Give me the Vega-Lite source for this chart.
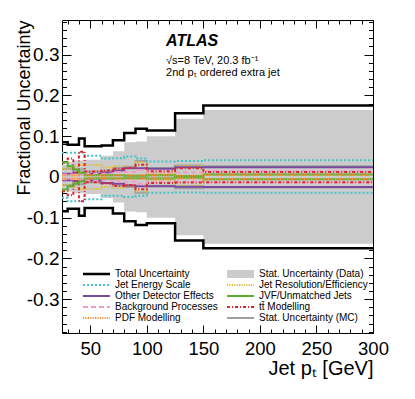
{
"$schema": "https://vega.github.io/schema/vega-lite/v6.json",
"width": 311, "height": 313,
"autosize": {"type": "none"},
"padding": {"left": 62, "top": 20, "right": 42, "bottom": 66},
"background": "white",
"data": {"values": [
{"s":"Stat. Uncertainty (Data)","x":25,"u":0.030,"d":-0.030},{"s":"Stat. Uncertainty (Data)","x":30,"u":0.036,"d":-0.036},{"s":"Stat. Uncertainty (Data)","x":35,"u":0.040,"d":-0.040},{"s":"Stat. Uncertainty (Data)","x":40,"u":0.040,"d":-0.040},{"s":"Stat. Uncertainty (Data)","x":45,"u":0.042,"d":-0.042},{"s":"Stat. Uncertainty (Data)","x":60,"u":0.052,"d":-0.052},{"s":"Stat. Uncertainty (Data)","x":70,"u":0.063,"d":-0.063},{"s":"Stat. Uncertainty (Data)","x":80,"u":0.085,"d":-0.085},{"s":"Stat. Uncertainty (Data)","x":90,"u":0.087,"d":-0.087},{"s":"Stat. Uncertainty (Data)","x":100,"u":0.100,"d":-0.100},{"s":"Stat. Uncertainty (Data)","x":125,"u":0.143,"d":-0.143},{"s":"Stat. Uncertainty (Data)","x":150,"u":0.164,"d":-0.164},{"s":"Stat. Uncertainty (Data)","x":300,"u":0.164,"d":-0.164},
{"s":"Stat. Uncertainty (MC)","x":25,"u":0.020,"d":-0.020},{"s":"Stat. Uncertainty (MC)","x":30,"u":0.020,"d":-0.020},{"s":"Stat. Uncertainty (MC)","x":35,"u":0.018,"d":-0.018},{"s":"Stat. Uncertainty (MC)","x":40,"u":0.018,"d":-0.018},{"s":"Stat. Uncertainty (MC)","x":45,"u":0.013,"d":-0.013},{"s":"Stat. Uncertainty (MC)","x":60,"u":0.015,"d":-0.015},{"s":"Stat. Uncertainty (MC)","x":70,"u":0.022,"d":-0.022},{"s":"Stat. Uncertainty (MC)","x":80,"u":0.025,"d":-0.025},{"s":"Stat. Uncertainty (MC)","x":90,"u":0.039,"d":-0.039},{"s":"Stat. Uncertainty (MC)","x":100,"u":0.022,"d":-0.022},{"s":"Stat. Uncertainty (MC)","x":125,"u":0.028,"d":-0.028},{"s":"Stat. Uncertainty (MC)","x":150,"u":0.026,"d":-0.026},{"s":"Stat. Uncertainty (MC)","x":300,"u":0.026,"d":-0.026},
{"s":"Jet Energy Scale","x":25,"u":0.059,"d":-0.051},{"s":"Jet Energy Scale","x":30,"u":0.059,"d":-0.060},{"s":"Jet Energy Scale","x":35,"u":0.059,"d":-0.060},{"s":"Jet Energy Scale","x":40,"u":0.059,"d":-0.060},{"s":"Jet Energy Scale","x":45,"u":0.052,"d":-0.055},{"s":"Jet Energy Scale","x":60,"u":0.045,"d":-0.046},{"s":"Jet Energy Scale","x":70,"u":0.046,"d":-0.046},{"s":"Jet Energy Scale","x":80,"u":0.050,"d":-0.049},{"s":"Jet Energy Scale","x":90,"u":0.045,"d":-0.046},{"s":"Jet Energy Scale","x":100,"u":0.038,"d":-0.039},{"s":"Jet Energy Scale","x":125,"u":0.039,"d":-0.038},{"s":"Jet Energy Scale","x":150,"u":0.041,"d":-0.039},{"s":"Jet Energy Scale","x":300,"u":0.041,"d":-0.039},
{"s":"Jet Resolution/Efficiency","x":25,"u":0.020,"d":-0.020},{"s":"Jet Resolution/Efficiency","x":30,"u":0.022,"d":-0.022},{"s":"Jet Resolution/Efficiency","x":35,"u":0.025,"d":-0.025},{"s":"Jet Resolution/Efficiency","x":40,"u":0.030,"d":-0.030},{"s":"Jet Resolution/Efficiency","x":45,"u":0.029,"d":-0.029},{"s":"Jet Resolution/Efficiency","x":60,"u":0.023,"d":-0.025},{"s":"Jet Resolution/Efficiency","x":70,"u":0.026,"d":-0.027},{"s":"Jet Resolution/Efficiency","x":80,"u":0.022,"d":-0.022},{"s":"Jet Resolution/Efficiency","x":90,"u":0.036,"d":-0.036},{"s":"Jet Resolution/Efficiency","x":100,"u":0.008,"d":-0.008},{"s":"Jet Resolution/Efficiency","x":125,"u":0.027,"d":-0.022},{"s":"Jet Resolution/Efficiency","x":150,"u":0.005,"d":-0.005},{"s":"Jet Resolution/Efficiency","x":300,"u":0.005,"d":-0.005},
{"s":"Other Detector Effects","x":25,"u":0.008,"d":-0.008},{"s":"Other Detector Effects","x":30,"u":0.008,"d":-0.008},{"s":"Other Detector Effects","x":35,"u":0.010,"d":-0.010},{"s":"Other Detector Effects","x":40,"u":0.010,"d":-0.010},{"s":"Other Detector Effects","x":45,"u":0.008,"d":-0.008},{"s":"Other Detector Effects","x":60,"u":0.011,"d":-0.015},{"s":"Other Detector Effects","x":70,"u":0.016,"d":-0.017},{"s":"Other Detector Effects","x":80,"u":0.021,"d":-0.021},{"s":"Other Detector Effects","x":90,"u":0.021,"d":-0.023},{"s":"Other Detector Effects","x":100,"u":0.020,"d":-0.023},{"s":"Other Detector Effects","x":125,"u":0.024,"d":-0.024},{"s":"Other Detector Effects","x":150,"u":0.024,"d":-0.025},{"s":"Other Detector Effects","x":300,"u":0.024,"d":-0.025},
{"s":"Background Processes","x":25,"u":0.006,"d":-0.006},{"s":"Background Processes","x":30,"u":0.006,"d":-0.006},{"s":"Background Processes","x":35,"u":0.006,"d":-0.006},{"s":"Background Processes","x":40,"u":0.007,"d":-0.007},{"s":"Background Processes","x":45,"u":0.008,"d":-0.008},{"s":"Background Processes","x":60,"u":0.008,"d":-0.008},{"s":"Background Processes","x":70,"u":0.012,"d":-0.012},{"s":"Background Processes","x":80,"u":0.012,"d":-0.012},{"s":"Background Processes","x":90,"u":0.017,"d":-0.017},{"s":"Background Processes","x":100,"u":0.011,"d":-0.011},{"s":"Background Processes","x":125,"u":0.011,"d":-0.011},{"s":"Background Processes","x":150,"u":0.014,"d":-0.014},{"s":"Background Processes","x":300,"u":0.014,"d":-0.014},
{"s":"tt̄ Modelling","x":25,"u":0.035,"d":-0.035},{"s":"tt̄ Modelling","x":30,"u":0.045,"d":-0.045},{"s":"tt̄ Modelling","x":35,"u":0.012,"d":-0.012},{"s":"tt̄ Modelling","x":40,"u":0.062,"d":-0.060},{"s":"tt̄ Modelling","x":45,"u":0.013,"d":-0.013},{"s":"tt̄ Modelling","x":60,"u":0.016,"d":-0.016},{"s":"tt̄ Modelling","x":70,"u":0.020,"d":-0.022},{"s":"tt̄ Modelling","x":80,"u":0.022,"d":-0.020},{"s":"tt̄ Modelling","x":90,"u":0.030,"d":-0.030},{"s":"tt̄ Modelling","x":100,"u":0.014,"d":-0.015},{"s":"tt̄ Modelling","x":125,"u":0.021,"d":-0.014},{"s":"tt̄ Modelling","x":150,"u":0.012,"d":-0.013},{"s":"tt̄ Modelling","x":300,"u":0.012,"d":-0.013},
{"s":"JVF/Unmatched Jets","x":25,"u":0.036,"d":-0.031},{"s":"JVF/Unmatched Jets","x":30,"u":0.026,"d":-0.023},{"s":"JVF/Unmatched Jets","x":35,"u":0.018,"d":-0.016},{"s":"JVF/Unmatched Jets","x":40,"u":0.010,"d":-0.011},{"s":"JVF/Unmatched Jets","x":45,"u":0.004,"d":-0.004},{"s":"JVF/Unmatched Jets","x":60,"u":0.004,"d":-0.004},{"s":"JVF/Unmatched Jets","x":70,"u":0.004,"d":-0.004},{"s":"JVF/Unmatched Jets","x":80,"u":0.003,"d":-0.003},{"s":"JVF/Unmatched Jets","x":90,"u":0.003,"d":-0.003},{"s":"JVF/Unmatched Jets","x":100,"u":0.004,"d":-0.004},{"s":"JVF/Unmatched Jets","x":125,"u":0.002,"d":-0.002},{"s":"JVF/Unmatched Jets","x":150,"u":0.006,"d":-0.006},{"s":"JVF/Unmatched Jets","x":300,"u":0.006,"d":-0.006},
{"s":"PDF Modelling","x":25,"u":0.004,"d":-0.004},{"s":"PDF Modelling","x":30,"u":0.004,"d":-0.004},{"s":"PDF Modelling","x":35,"u":0.004,"d":-0.004},{"s":"PDF Modelling","x":40,"u":0.005,"d":-0.005},{"s":"PDF Modelling","x":45,"u":0.004,"d":-0.004},{"s":"PDF Modelling","x":60,"u":0.003,"d":-0.003},{"s":"PDF Modelling","x":70,"u":0.004,"d":-0.004},{"s":"PDF Modelling","x":80,"u":0.004,"d":-0.004},{"s":"PDF Modelling","x":90,"u":0.004,"d":-0.004},{"s":"PDF Modelling","x":100,"u":0.004,"d":-0.004},{"s":"PDF Modelling","x":125,"u":0.003,"d":-0.003},{"s":"PDF Modelling","x":150,"u":0.005,"d":-0.005},{"s":"PDF Modelling","x":300,"u":0.005,"d":-0.005},
{"s":"Total Uncertainty","x":25,"u":0.085,"d":-0.084},{"s":"Total Uncertainty","x":30,"u":0.079,"d":-0.078},{"s":"Total Uncertainty","x":35,"u":0.079,"d":-0.078},{"s":"Total Uncertainty","x":40,"u":0.094,"d":-0.095},{"s":"Total Uncertainty","x":45,"u":0.075,"d":-0.076},{"s":"Total Uncertainty","x":60,"u":0.077,"d":-0.076},{"s":"Total Uncertainty","x":70,"u":0.090,"d":-0.090},{"s":"Total Uncertainty","x":80,"u":0.108,"d":-0.109},{"s":"Total Uncertainty","x":90,"u":0.118,"d":-0.118},{"s":"Total Uncertainty","x":100,"u":0.114,"d":-0.114},{"s":"Total Uncertainty","x":125,"u":0.156,"d":-0.156},{"s":"Total Uncertainty","x":150,"u":0.175,"d":-0.175},{"s":"Total Uncertainty","x":300,"u":0.175,"d":-0.175}
]},
"layer": [
{
"transform": [{"filter": "datum.s === 'Stat. Uncertainty (Data)'"}],
"mark": {"type": "area", "interpolate": "step-after", "color": "#cccccc"},
"encoding": {
"x": {"field": "x", "type": "quantitative", "scale": {"domain": [25, 300], "nice": false, "zero": false}, "axis": null},
"y": {"field": "u", "type": "quantitative", "scale": {"domain": [-0.383, 0.385], "nice": false, "zero": false}, "axis": null},
"y2": {"field": "d"}
}
},
{
"transform": [{"filter": "datum.s !== 'Stat. Uncertainty (Data)'"}],
"mark": {"type": "line", "interpolate": "step-after"},
"encoding": {
"x": {"field": "x", "type": "quantitative", "axis": {"orient": "bottom", "values": [30,40,50,60,70,80,90,100,110,120,130,140,150,160,170,180,190,200,210,220,230,240,250,260,270,280,290,300], "tickSize": {"condition": {"test": "datum.value % 50 === 0", "value": -8}, "value": -4}, "labelExpr": "datum.value % 50 === 0 ? datum.label : ''", "labelFontSize": 18.5, "labelPadding": 14.5, "labelOverlap": false, "labelFlush": false, "labelBound": false, "title": "Jet pₜ [GeV]", "titleFontSize": 20, "titleX": 311, "titleY": 41, "titleAlign": "right", "titleBaseline": "alphabetic"}},
"y": {"field": "u", "type": "quantitative", "axis": {"orient": "left", "values": [-0.38,-0.36,-0.34,-0.32,-0.3,-0.28,-0.26,-0.24,-0.22,-0.2,-0.18,-0.16,-0.14,-0.12,-0.1,-0.08,-0.06,-0.04,-0.02,0,0.02,0.04,0.06,0.08,0.1,0.12,0.14,0.16,0.18,0.2,0.22,0.24,0.26,0.28,0.3,0.32,0.34,0.36,0.38], "tickSize": {"condition": {"test": "abs(datum.value*10 - round(datum.value*10)) < 0.001", "value": -9}, "value": -4.5}, "labelExpr": "abs(datum.value*10 - round(datum.value*10)) < 0.001 ? (abs(datum.value) < 0.001 ? '0' : replace(format(datum.value, '.1f'), '−', '-')) : ''", "labelFontSize": 19, "labelPadding": 12, "labelOverlap": false, "labelFlush": false, "labelBound": false, "title": "Fractional Uncertainty", "titleFontSize": 18, "titleX": -38, "titleY": 0, "titleAlign": "right", "titleAngle": -90, "titleBaseline": "middle"}},
"color": {"field": "s", "type": "nominal", "scale": {"domain": ["Total Uncertainty","Jet Energy Scale","Other Detector Effects","Background Processes","PDF Modelling","Stat. Uncertainty (Data)","Jet Resolution/Efficiency","JVF/Unmatched Jets","tt̄ Modelling","Stat. Uncertainty (MC)"], "range": ["#000000","#45c4c8","#7b4a9e","#f59ac6","#f2913d","#cccccc","#dcbf45","#5aad2e","#e3242b","#a0a0a0"]},
"legend": {"orient": "none", "legendX": 21, "legendY": 249, "columns": 2, "columnPadding": 5, "rowPadding": 1, "title": null, "symbolType": "M-1,0H4.4", "symbolSize": 100, "labelOffset": 22, "labelFontSize": 10, "labelFont": "Liberation Sans", "labelLimit": 300, "padding": 0, "encode": {"symbols": {"update": {"shape": {"signal": "datum.value === 'Stat. Uncertainty (Data)' ? 'M-1,-0.8H4.4V0.8H-1Z' : 'M-1,0H4.4'"}, "fill": {"signal": "datum.value === 'Stat. Uncertainty (Data)' ? '#cccccc' : 'transparent'"}, "strokeWidth": {"signal": "datum.value === 'Stat. Uncertainty (Data)' ? 0 : (datum.value === 'Total Uncertainty' ? 2.5 : 2)"}}}}}},
"strokeDash": {"field": "s", "type": "nominal", "scale": {"domain": ["Total Uncertainty","Jet Energy Scale","Other Detector Effects","Background Processes","PDF Modelling","Stat. Uncertainty (Data)","Jet Resolution/Efficiency","JVF/Unmatched Jets","tt̄ Modelling","Stat. Uncertainty (MC)"], "range": [[1,0],[2,2],[1,0],[5,3],[1.2,1.2],[1,0],[1.2,1.2],[1,0],[3,2,1,2],[1,0]]}},
"strokeWidth": {"condition": {"test": "datum.s === 'Total Uncertainty'", "value": 2.5}, "value": 2}
}
},
{
"transform": [{"filter": "datum.s !== 'Stat. Uncertainty (Data)'"}],
"mark": {"type": "line", "interpolate": "step-after"},
"encoding": {
"x": {"field": "x", "type": "quantitative", "axis": {"orient": "top", "values": [30,40,50,60,70,80,90,100,110,120,130,140,150,160,170,180,190,200,210,220,230,240,250,260,270,280,290,300], "tickSize": {"condition": {"test": "datum.value % 50 === 0", "value": -8}, "value": -4}, "labels": false, "title": null}},
"y": {"field": "d", "type": "quantitative", "axis": {"orient": "right", "values": [-0.38,-0.36,-0.34,-0.32,-0.3,-0.28,-0.26,-0.24,-0.22,-0.2,-0.18,-0.16,-0.14,-0.12,-0.1,-0.08,-0.06,-0.04,-0.02,0,0.02,0.04,0.06,0.08,0.1,0.12,0.14,0.16,0.18,0.2,0.22,0.24,0.26,0.28,0.3,0.32,0.34,0.36,0.38], "tickSize": {"condition": {"test": "abs(datum.value*10 - round(datum.value*10)) < 0.001", "value": -9}, "value": -4.5}, "labels": false, "title": null}},
"color": {"field": "s", "type": "nominal", "legend": {"orient": "none", "legendX": 21, "legendY": 249, "columns": 2, "columnPadding": 5, "rowPadding": 1, "title": null, "symbolType": "M-1,0H4.4", "symbolSize": 100, "labelOffset": 22, "labelFontSize": 10, "labelFont": "Liberation Sans", "labelLimit": 300, "padding": 0, "encode": {"symbols": {"update": {"shape": {"signal": "datum.value === 'Stat. Uncertainty (Data)' ? 'M-1,-0.8H4.4V0.8H-1Z' : 'M-1,0H4.4'"}, "fill": {"signal": "datum.value === 'Stat. Uncertainty (Data)' ? '#cccccc' : 'transparent'"}, "strokeWidth": {"signal": "datum.value === 'Stat. Uncertainty (Data)' ? 0 : (datum.value === 'Total Uncertainty' ? 2.5 : 2)"}}}}}},
"strokeDash": {"field": "s", "type": "nominal"},
"strokeWidth": {"condition": {"test": "datum.s === 'Total Uncertainty'", "value": 2.5}, "value": 2}
}
},
{
"data": {"values": [{"t": "ATLAS"}]},
"mark": {"type": "text", "align": "left", "baseline": "alphabetic", "fontSize": 16, "fontWeight": "bold", "fontStyle": "italic", "font": "Liberation Sans"},
"encoding": {"x": {"datum": 117, "axis": null}, "y": {"datum": 0.32, "axis": null}, "text": {"field": "t"}}
},
{
"data": {"values": [{"t": "√s=8 TeV, 20.3 fb⁻¹"}]},
"mark": {"type": "text", "align": "left", "baseline": "alphabetic", "fontSize": 11, "font": "Liberation Sans"},
"encoding": {"x": {"datum": 117, "axis": null}, "y": {"datum": 0.277, "axis": null}, "text": {"field": "t"}}
},
{
"data": {"values": [{"t": "2nd pₜ ordered extra jet"}]},
"mark": {"type": "text", "align": "left", "baseline": "alphabetic", "fontSize": 11, "font": "Liberation Sans"},
"encoding": {"x": {"datum": 117, "axis": null}, "y": {"datum": 0.2476, "axis": null}, "text": {"field": "t"}}
}
],
"resolve": {"axis": {"x": "independent", "y": "independent"}},
"config": {
"view": {"stroke": "black", "strokeWidth": 1},
"font": "Liberation Sans",
"axis": {"grid": false, "domain": false, "tickColor": "black", "tickWidth": 1, "labelColor": "black", "titleColor": "black", "labelFont": "Liberation Sans", "titleFont": "Liberation Sans", "titleFontWeight": "normal"}
}
}
